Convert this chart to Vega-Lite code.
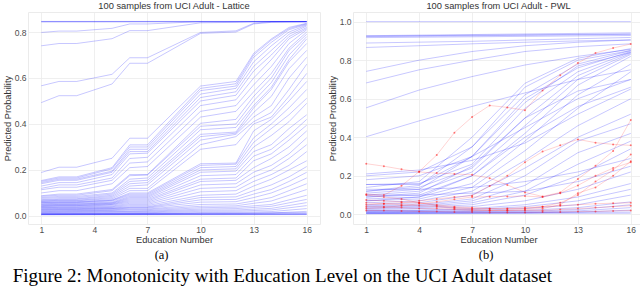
{
"$schema":"https://vega.github.io/schema/vega-lite/v6.json",
"padding":{"left":2,"top":1,"right":0,"bottom":0},
"background":"white",
"config":{
"view":{"stroke":"#ebebeb","strokeWidth":1},
"axis":{"domain":false,"ticks":false,"grid":true,"gridColor":"#ebebeb","gridWidth":0.8,"labelColor":"#4d4d4d","labelFontSize":8.5,"labelFont":"Liberation Sans","titleFont":"Liberation Sans","titleFontSize":9.3,"titleFontWeight":"normal","titleColor":"#333333","labelPadding":2,"titlePadding":2},
"axisX":{"labelPadding":1.5,"titlePadding":1,"labelFlush":false},
"title":{"font":"Liberation Sans","fontSize":9.3,"fontWeight":"normal","color":"#333333","offset":1}
},
"datasets":{
"lat":[
{"s":1,"x":1,"y":0.845},{"s":1,"x":16,"y":0.845},
{"s":2,"x":1,"y":0.846},{"s":2,"x":16,"y":0.846},
{"s":3,"x":1,"y":0.844},{"s":3,"x":16,"y":0.845},
{"s":4,"x":1,"y":0.798},{"s":4,"x":2,"y":0.804},{"s":4,"x":3,"y":0.804},{"s":4,"x":5,"y":0.816},{"s":4,"x":6,"y":0.835},{"s":4,"x":7,"y":0.835},{"s":4,"x":10,"y":0.845},{"s":4,"x":16,"y":0.845},
{"s":5,"x":1,"y":0.74},{"s":5,"x":2,"y":0.75},{"s":5,"x":3,"y":0.75},{"s":5,"x":5,"y":0.771},{"s":5,"x":6,"y":0.806},{"s":5,"x":7,"y":0.806},{"s":5,"x":10,"y":0.84},{"s":5,"x":12,"y":0.842},{"s":5,"x":13,"y":0.845},{"s":5,"x":16,"y":0.845},
{"s":6,"x":1,"y":0.566},{"s":6,"x":2,"y":0.585},{"s":6,"x":3,"y":0.585},{"s":6,"x":5,"y":0.616},{"s":6,"x":6,"y":0.688},{"s":6,"x":7,"y":0.688},{"s":6,"x":10,"y":0.798},{"s":6,"x":12,"y":0.805},{"s":6,"x":13,"y":0.838},{"s":6,"x":14,"y":0.845},{"s":6,"x":16,"y":0.845},
{"s":7,"x":1,"y":0.493},{"s":7,"x":2,"y":0.523},{"s":7,"x":3,"y":0.523},{"s":7,"x":5,"y":0.574},{"s":7,"x":6,"y":0.664},{"s":7,"x":7,"y":0.664},{"s":7,"x":10,"y":0.794},{"s":7,"x":12,"y":0.8},{"s":7,"x":13,"y":0.835},{"s":7,"x":14,"y":0.842},{"s":7,"x":16,"y":0.845},
{"s":10,"x":1,"y":0.189},{"s":10,"x":2,"y":0.212},{"s":10,"x":3,"y":0.212},{"s":10,"x":5,"y":0.251},{"s":10,"x":6,"y":0.338},{"s":10,"x":7,"y":0.338},{"s":10,"x":10,"y":0.565},{"s":10,"x":12,"y":0.585},{"s":10,"x":13,"y":0.707},{"s":10,"x":14,"y":0.77},{"s":10,"x":15,"y":0.82},{"s":10,"x":16,"y":0.838},
{"s":11,"x":1,"y":0.154},{"s":11,"x":2,"y":0.17},{"s":11,"x":3,"y":0.17},{"s":11,"x":5,"y":0.21},{"s":11,"x":6,"y":0.309},{"s":11,"x":7,"y":0.309},{"s":11,"x":10,"y":0.555},{"s":11,"x":12,"y":0.575},{"s":11,"x":13,"y":0.7},{"s":11,"x":14,"y":0.765},{"s":11,"x":15,"y":0.815},{"s":11,"x":16,"y":0.836},
{"s":12,"x":1,"y":0.15},{"s":12,"x":2,"y":0.165},{"s":12,"x":3,"y":0.165},{"s":12,"x":5,"y":0.205},{"s":12,"x":6,"y":0.3},{"s":12,"x":7,"y":0.3},{"s":12,"x":10,"y":0.545},{"s":12,"x":12,"y":0.565},{"s":12,"x":13,"y":0.69},{"s":12,"x":14,"y":0.755},{"s":12,"x":15,"y":0.81},{"s":12,"x":16,"y":0.833},
{"s":13,"x":1,"y":0.145},{"s":13,"x":2,"y":0.16},{"s":13,"x":3,"y":0.16},{"s":13,"x":5,"y":0.195},{"s":13,"x":6,"y":0.29},{"s":13,"x":7,"y":0.29},{"s":13,"x":10,"y":0.53},{"s":13,"x":12,"y":0.555},{"s":13,"x":13,"y":0.67},{"s":13,"x":14,"y":0.74},{"s":13,"x":15,"y":0.8},{"s":13,"x":16,"y":0.83},
{"s":14,"x":1,"y":0.14},{"s":14,"x":2,"y":0.155},{"s":14,"x":3,"y":0.155},{"s":14,"x":5,"y":0.19},{"s":14,"x":6,"y":0.28},{"s":14,"x":7,"y":0.28},{"s":14,"x":10,"y":0.515},{"s":14,"x":12,"y":0.54},{"s":14,"x":13,"y":0.65},{"s":14,"x":14,"y":0.72},{"s":14,"x":15,"y":0.79},{"s":14,"x":16,"y":0.826},
{"s":15,"x":1,"y":0.13},{"s":15,"x":2,"y":0.145},{"s":15,"x":3,"y":0.145},{"s":15,"x":5,"y":0.18},{"s":15,"x":6,"y":0.27},{"s":15,"x":7,"y":0.273},{"s":15,"x":10,"y":0.5},{"s":15,"x":12,"y":0.525},{"s":15,"x":13,"y":0.63},{"s":15,"x":14,"y":0.7},{"s":15,"x":15,"y":0.78},{"s":15,"x":16,"y":0.82},
{"s":16,"x":1,"y":0.12},{"s":16,"x":2,"y":0.135},{"s":16,"x":3,"y":0.135},{"s":16,"x":5,"y":0.165},{"s":16,"x":6,"y":0.25},{"s":16,"x":7,"y":0.255},{"s":16,"x":10,"y":0.48},{"s":16,"x":12,"y":0.505},{"s":16,"x":13,"y":0.6},{"s":16,"x":14,"y":0.68},{"s":16,"x":15,"y":0.77},{"s":16,"x":16,"y":0.815},
{"s":17,"x":1,"y":0.114},{"s":17,"x":2,"y":0.125},{"s":17,"x":3,"y":0.125},{"s":17,"x":5,"y":0.155},{"s":17,"x":6,"y":0.23},{"s":17,"x":7,"y":0.235},{"s":17,"x":10,"y":0.455},{"s":17,"x":12,"y":0.48},{"s":17,"x":13,"y":0.57},{"s":17,"x":14,"y":0.65},{"s":17,"x":15,"y":0.75},{"s":17,"x":16,"y":0.81},
{"s":18,"x":1,"y":0.1},{"s":18,"x":2,"y":0.11},{"s":18,"x":3,"y":0.11},{"s":18,"x":5,"y":0.14},{"s":18,"x":6,"y":0.21},{"s":18,"x":7,"y":0.215},{"s":18,"x":10,"y":0.43},{"s":18,"x":12,"y":0.455},{"s":18,"x":13,"y":0.54},{"s":18,"x":14,"y":0.62},{"s":18,"x":15,"y":0.73},{"s":18,"x":16,"y":0.8},
{"s":19,"x":1,"y":0.088},{"s":19,"x":2,"y":0.095},{"s":19,"x":3,"y":0.095},{"s":19,"x":5,"y":0.115},{"s":19,"x":6,"y":0.18},{"s":19,"x":7,"y":0.18},{"s":19,"x":10,"y":0.403},{"s":19,"x":12,"y":0.42},{"s":19,"x":13,"y":0.52},{"s":19,"x":14,"y":0.6},{"s":19,"x":15,"y":0.72},{"s":19,"x":16,"y":0.79},
{"s":20,"x":1,"y":0.085},{"s":20,"x":2,"y":0.09},{"s":20,"x":3,"y":0.09},{"s":20,"x":5,"y":0.11},{"s":20,"x":6,"y":0.175},{"s":20,"x":7,"y":0.178},{"s":20,"x":10,"y":0.39},{"s":20,"x":12,"y":0.4},{"s":20,"x":13,"y":0.5},{"s":20,"x":14,"y":0.58},{"s":20,"x":15,"y":0.7},{"s":20,"x":16,"y":0.78},
{"s":21,"x":1,"y":0.08},{"s":21,"x":2,"y":0.085},{"s":21,"x":3,"y":0.085},{"s":21,"x":5,"y":0.1},{"s":21,"x":6,"y":0.16},{"s":21,"x":7,"y":0.165},{"s":21,"x":10,"y":0.375},{"s":21,"x":12,"y":0.385},{"s":21,"x":13,"y":0.48},{"s":21,"x":14,"y":0.56},{"s":21,"x":15,"y":0.68},{"s":21,"x":16,"y":0.77},
{"s":22,"x":1,"y":0.076},{"s":22,"x":2,"y":0.08},{"s":22,"x":3,"y":0.08},{"s":22,"x":5,"y":0.095},{"s":22,"x":6,"y":0.15},{"s":22,"x":7,"y":0.155},{"s":22,"x":10,"y":0.355},{"s":22,"x":12,"y":0.365},{"s":22,"x":13,"y":0.47},{"s":22,"x":14,"y":0.55},{"s":22,"x":15,"y":0.67},{"s":22,"x":16,"y":0.75},
{"s":23,"x":1,"y":0.071},{"s":23,"x":2,"y":0.075},{"s":23,"x":3,"y":0.075},{"s":23,"x":5,"y":0.09},{"s":23,"x":6,"y":0.14},{"s":23,"x":7,"y":0.145},{"s":23,"x":10,"y":0.345},{"s":23,"x":12,"y":0.36},{"s":23,"x":13,"y":0.45},{"s":23,"x":14,"y":0.52},{"s":23,"x":15,"y":0.64},{"s":23,"x":16,"y":0.72},
{"s":24,"x":1,"y":0.068},{"s":24,"x":2,"y":0.072},{"s":24,"x":3,"y":0.072},{"s":24,"x":5,"y":0.085},{"s":24,"x":6,"y":0.13},{"s":24,"x":7,"y":0.135},{"s":24,"x":10,"y":0.33},{"s":24,"x":12,"y":0.355},{"s":24,"x":13,"y":0.43},{"s":24,"x":14,"y":0.48},{"s":24,"x":15,"y":0.6},{"s":24,"x":16,"y":0.69},
{"s":25,"x":1,"y":0.065},{"s":25,"x":2,"y":0.068},{"s":25,"x":3,"y":0.068},{"s":25,"x":5,"y":0.08},{"s":25,"x":6,"y":0.12},{"s":25,"x":7,"y":0.12},{"s":25,"x":10,"y":0.31},{"s":25,"x":12,"y":0.345},{"s":25,"x":13,"y":0.41},{"s":25,"x":14,"y":0.45},{"s":25,"x":15,"y":0.55},{"s":25,"x":16,"y":0.66},
{"s":26,"x":1,"y":0.063},{"s":26,"x":2,"y":0.066},{"s":26,"x":3,"y":0.066},{"s":26,"x":5,"y":0.075},{"s":26,"x":6,"y":0.11},{"s":26,"x":7,"y":0.11},{"s":26,"x":10,"y":0.29},{"s":26,"x":12,"y":0.31},{"s":26,"x":13,"y":0.4},{"s":26,"x":14,"y":0.43},{"s":26,"x":15,"y":0.52},{"s":26,"x":16,"y":0.62},
{"s":27,"x":1,"y":0.06},{"s":27,"x":2,"y":0.062},{"s":27,"x":3,"y":0.062},{"s":27,"x":5,"y":0.07},{"s":27,"x":6,"y":0.1},{"s":27,"x":7,"y":0.1},{"s":27,"x":10,"y":0.227},{"s":27,"x":12,"y":0.23},{"s":27,"x":13,"y":0.37},{"s":27,"x":14,"y":0.42},{"s":27,"x":15,"y":0.5},{"s":27,"x":16,"y":0.585},
{"s":28,"x":1,"y":0.058},{"s":28,"x":2,"y":0.06},{"s":28,"x":3,"y":0.06},{"s":28,"x":5,"y":0.068},{"s":28,"x":6,"y":0.095},{"s":28,"x":7,"y":0.095},{"s":28,"x":10,"y":0.22},{"s":28,"x":12,"y":0.225},{"s":28,"x":13,"y":0.34},{"s":28,"x":14,"y":0.4},{"s":28,"x":15,"y":0.47},{"s":28,"x":16,"y":0.55},
{"s":29,"x":1,"y":0.056},{"s":29,"x":2,"y":0.058},{"s":29,"x":3,"y":0.058},{"s":29,"x":5,"y":0.065},{"s":29,"x":6,"y":0.09},{"s":29,"x":7,"y":0.09},{"s":29,"x":10,"y":0.21},{"s":29,"x":12,"y":0.215},{"s":29,"x":13,"y":0.32},{"s":29,"x":14,"y":0.38},{"s":29,"x":15,"y":0.44},{"s":29,"x":16,"y":0.512},
{"s":30,"x":1,"y":0.053},{"s":30,"x":2,"y":0.055},{"s":30,"x":3,"y":0.055},{"s":30,"x":5,"y":0.06},{"s":30,"x":6,"y":0.085},{"s":30,"x":7,"y":0.085},{"s":30,"x":10,"y":0.2},{"s":30,"x":12,"y":0.205},{"s":30,"x":13,"y":0.3},{"s":30,"x":14,"y":0.35},{"s":30,"x":15,"y":0.41},{"s":30,"x":16,"y":0.49},
{"s":31,"x":1,"y":0.05},{"s":31,"x":2,"y":0.052},{"s":31,"x":3,"y":0.052},{"s":31,"x":5,"y":0.057},{"s":31,"x":6,"y":0.08},{"s":31,"x":7,"y":0.08},{"s":31,"x":10,"y":0.19},{"s":31,"x":12,"y":0.195},{"s":31,"x":13,"y":0.28},{"s":31,"x":14,"y":0.31},{"s":31,"x":15,"y":0.38},{"s":31,"x":16,"y":0.44},
{"s":32,"x":1,"y":0.048},{"s":32,"x":2,"y":0.05},{"s":32,"x":3,"y":0.05},{"s":32,"x":5,"y":0.055},{"s":32,"x":6,"y":0.075},{"s":32,"x":7,"y":0.075},{"s":32,"x":10,"y":0.175},{"s":32,"x":12,"y":0.18},{"s":32,"x":13,"y":0.26},{"s":32,"x":14,"y":0.29},{"s":32,"x":15,"y":0.35},{"s":32,"x":16,"y":0.42},
{"s":33,"x":1,"y":0.045},{"s":33,"x":2,"y":0.047},{"s":33,"x":3,"y":0.047},{"s":33,"x":5,"y":0.052},{"s":33,"x":6,"y":0.07},{"s":33,"x":7,"y":0.07},{"s":33,"x":10,"y":0.16},{"s":33,"x":12,"y":0.165},{"s":33,"x":13,"y":0.24},{"s":33,"x":14,"y":0.27},{"s":33,"x":15,"y":0.33},{"s":33,"x":16,"y":0.395},
{"s":34,"x":1,"y":0.043},{"s":34,"x":2,"y":0.045},{"s":34,"x":3,"y":0.045},{"s":34,"x":5,"y":0.05},{"s":34,"x":6,"y":0.065},{"s":34,"x":7,"y":0.065},{"s":34,"x":10,"y":0.15},{"s":34,"x":12,"y":0.155},{"s":34,"x":13,"y":0.21},{"s":34,"x":14,"y":0.25},{"s":34,"x":15,"y":0.3},{"s":34,"x":16,"y":0.37},
{"s":35,"x":1,"y":0.041},{"s":35,"x":2,"y":0.043},{"s":35,"x":3,"y":0.043},{"s":35,"x":5,"y":0.047},{"s":35,"x":6,"y":0.06},{"s":35,"x":7,"y":0.06},{"s":35,"x":10,"y":0.135},{"s":35,"x":12,"y":0.14},{"s":35,"x":13,"y":0.19},{"s":35,"x":14,"y":0.22},{"s":35,"x":15,"y":0.27},{"s":35,"x":16,"y":0.34},
{"s":36,"x":1,"y":0.038},{"s":36,"x":2,"y":0.04},{"s":36,"x":3,"y":0.04},{"s":36,"x":5,"y":0.043},{"s":36,"x":6,"y":0.055},{"s":36,"x":7,"y":0.055},{"s":36,"x":10,"y":0.12},{"s":36,"x":12,"y":0.125},{"s":36,"x":13,"y":0.17},{"s":36,"x":14,"y":0.2},{"s":36,"x":15,"y":0.25},{"s":36,"x":16,"y":0.31},
{"s":37,"x":1,"y":0.036},{"s":37,"x":2,"y":0.037},{"s":37,"x":3,"y":0.037},{"s":37,"x":5,"y":0.04},{"s":37,"x":6,"y":0.05},{"s":37,"x":7,"y":0.05},{"s":37,"x":10,"y":0.105},{"s":37,"x":12,"y":0.11},{"s":37,"x":13,"y":0.15},{"s":37,"x":14,"y":0.18},{"s":37,"x":15,"y":0.22},{"s":37,"x":16,"y":0.28},
{"s":38,"x":1,"y":0.034},{"s":38,"x":2,"y":0.035},{"s":38,"x":3,"y":0.035},{"s":38,"x":5,"y":0.037},{"s":38,"x":6,"y":0.045},{"s":38,"x":7,"y":0.045},{"s":38,"x":10,"y":0.09},{"s":38,"x":12,"y":0.095},{"s":38,"x":13,"y":0.13},{"s":38,"x":14,"y":0.16},{"s":38,"x":15,"y":0.2},{"s":38,"x":16,"y":0.24},
{"s":39,"x":1,"y":0.031},{"s":39,"x":2,"y":0.032},{"s":39,"x":3,"y":0.032},{"s":39,"x":5,"y":0.034},{"s":39,"x":6,"y":0.04},{"s":39,"x":7,"y":0.04},{"s":39,"x":10,"y":0.08},{"s":39,"x":12,"y":0.083},{"s":39,"x":13,"y":0.11},{"s":39,"x":14,"y":0.135},{"s":39,"x":15,"y":0.17},{"s":39,"x":16,"y":0.215},
{"s":40,"x":1,"y":0.029},{"s":40,"x":2,"y":0.03},{"s":40,"x":3,"y":0.03},{"s":40,"x":5,"y":0.032},{"s":40,"x":6,"y":0.037},{"s":40,"x":7,"y":0.037},{"s":40,"x":10,"y":0.07},{"s":40,"x":12,"y":0.072},{"s":40,"x":13,"y":0.095},{"s":40,"x":14,"y":0.115},{"s":40,"x":15,"y":0.15},{"s":40,"x":16,"y":0.19},
{"s":41,"x":1,"y":0.027},{"s":41,"x":2,"y":0.028},{"s":41,"x":3,"y":0.028},{"s":41,"x":5,"y":0.03},{"s":41,"x":6,"y":0.034},{"s":41,"x":7,"y":0.034},{"s":41,"x":10,"y":0.06},{"s":41,"x":12,"y":0.062},{"s":41,"x":13,"y":0.08},{"s":41,"x":14,"y":0.1},{"s":41,"x":15,"y":0.13},{"s":41,"x":16,"y":0.165},
{"s":42,"x":1,"y":0.024},{"s":42,"x":2,"y":0.025},{"s":42,"x":3,"y":0.025},{"s":42,"x":5,"y":0.027},{"s":42,"x":6,"y":0.03},{"s":42,"x":7,"y":0.03},{"s":42,"x":10,"y":0.05},{"s":42,"x":12,"y":0.052},{"s":42,"x":13,"y":0.065},{"s":42,"x":14,"y":0.08},{"s":42,"x":15,"y":0.11},{"s":42,"x":16,"y":0.14},
{"s":43,"x":1,"y":0.022},{"s":43,"x":2,"y":0.023},{"s":43,"x":3,"y":0.023},{"s":43,"x":5,"y":0.024},{"s":43,"x":6,"y":0.027},{"s":43,"x":7,"y":0.027},{"s":43,"x":10,"y":0.042},{"s":43,"x":12,"y":0.044},{"s":43,"x":13,"y":0.055},{"s":43,"x":14,"y":0.065},{"s":43,"x":15,"y":0.09},{"s":43,"x":16,"y":0.115},
{"s":44,"x":1,"y":0.019},{"s":44,"x":7,"y":0.023},{"s":44,"x":10,"y":0.036},{"s":44,"x":12,"y":0.038},{"s":44,"x":14,"y":0.05},{"s":44,"x":16,"y":0.09},
{"s":45,"x":1,"y":0.017},{"s":45,"x":7,"y":0.02},{"s":45,"x":10,"y":0.03},{"s":45,"x":12,"y":0.032},{"s":45,"x":14,"y":0.042},{"s":45,"x":16,"y":0.072},
{"s":46,"x":1,"y":0.015},{"s":46,"x":7,"y":0.017},{"s":46,"x":10,"y":0.025},{"s":46,"x":12,"y":0.026},{"s":46,"x":14,"y":0.033},{"s":46,"x":16,"y":0.058},
{"s":47,"x":1,"y":0.012},{"s":47,"x":7,"y":0.014},{"s":47,"x":10,"y":0.02},{"s":47,"x":12,"y":0.021},{"s":47,"x":14,"y":0.026},{"s":47,"x":16,"y":0.045},
{"s":48,"x":1,"y":0.01},{"s":48,"x":7,"y":0.011},{"s":48,"x":10,"y":0.015},{"s":48,"x":12,"y":0.016},{"s":48,"x":14,"y":0.019},{"s":48,"x":16,"y":0.032},
{"s":49,"x":1,"y":0.008},{"s":49,"x":7,"y":0.009},{"s":49,"x":10,"y":0.011},{"s":49,"x":12,"y":0.011},{"s":49,"x":14,"y":0.013},{"s":49,"x":16,"y":0.02},
{"s":50,"x":1,"y":0.007},{"s":50,"x":10,"y":0.008},{"s":50,"x":16,"y":0.01},
{"s":51,"x":1,"y":0.006},{"s":51,"x":16,"y":0.007},
{"s":52,"x":1,"y":0.005},{"s":52,"x":16,"y":0.006},
{"s":53,"x":1,"y":0.009},{"s":53,"x":7,"y":0.01},{"s":53,"x":12,"y":0.012},{"s":53,"x":16,"y":0.015},
{"s":54,"x":1,"y":0.007},{"s":54,"x":12,"y":0.008},{"s":54,"x":16,"y":0.009}
],
"pwl":[
{"s":1,"x":1,"y":1.0},{"s":1,"x":16,"y":1.0},
{"s":2,"x":1,"y":0.927},{"s":2,"x":16,"y":0.942},
{"s":3,"x":1,"y":0.922},{"s":3,"x":16,"y":0.934},
{"s":4,"x":1,"y":0.917},{"s":4,"x":16,"y":0.928},
{"s":5,"x":1,"y":0.925},{"s":5,"x":16,"y":0.936},
{"s":6,"x":1,"y":0.889},{"s":6,"x":7,"y":0.898},{"s":6,"x":16,"y":0.918},
{"s":7,"x":1,"y":0.866},{"s":7,"x":4,"y":0.875},{"s":7,"x":7,"y":0.885},{"s":7,"x":10,"y":0.893},{"s":7,"x":13,"y":0.9},{"s":7,"x":16,"y":0.905},
{"s":8,"x":1,"y":0.742},{"s":8,"x":4,"y":0.8},{"s":8,"x":7,"y":0.845},{"s":8,"x":10,"y":0.875},{"s":8,"x":13,"y":0.893},{"s":8,"x":16,"y":0.905},
{"s":9,"x":1,"y":0.682},{"s":9,"x":4,"y":0.75},{"s":9,"x":7,"y":0.8},{"s":9,"x":10,"y":0.845},{"s":9,"x":13,"y":0.87},{"s":9,"x":16,"y":0.885},
{"s":10,"x":1,"y":0.553},{"s":10,"x":4,"y":0.645},{"s":10,"x":7,"y":0.715},{"s":10,"x":10,"y":0.775},{"s":10,"x":13,"y":0.82},{"s":10,"x":16,"y":0.856},
{"s":11,"x":1,"y":0.403},{"s":11,"x":4,"y":0.485},{"s":11,"x":7,"y":0.56},{"s":11,"x":10,"y":0.63},{"s":11,"x":13,"y":0.7},{"s":11,"x":16,"y":0.75},
{"s":12,"x":1,"y":0.2},{"s":12,"x":4,"y":0.22},{"s":12,"x":7,"y":0.35},{"s":12,"x":10,"y":0.62},{"s":12,"x":13,"y":0.78},{"s":12,"x":16,"y":0.85},
{"s":13,"x":1,"y":0.155},{"s":13,"x":4,"y":0.155},{"s":13,"x":7,"y":0.3},{"s":13,"x":10,"y":0.6},{"s":13,"x":13,"y":0.76},{"s":13,"x":16,"y":0.845},
{"s":14,"x":1,"y":0.155},{"s":14,"x":4,"y":0.16},{"s":14,"x":7,"y":0.26},{"s":14,"x":10,"y":0.55},{"s":14,"x":13,"y":0.74},{"s":14,"x":16,"y":0.84},
{"s":15,"x":1,"y":0.12},{"s":15,"x":4,"y":0.14},{"s":15,"x":7,"y":0.24},{"s":15,"x":10,"y":0.5},{"s":15,"x":13,"y":0.72},{"s":15,"x":16,"y":0.835},
{"s":16,"x":1,"y":0.1},{"s":16,"x":4,"y":0.12},{"s":16,"x":7,"y":0.22},{"s":16,"x":10,"y":0.46},{"s":16,"x":13,"y":0.7},{"s":16,"x":16,"y":0.83},
{"s":17,"x":1,"y":0.09},{"s":17,"x":4,"y":0.1},{"s":17,"x":7,"y":0.2},{"s":17,"x":10,"y":0.42},{"s":17,"x":13,"y":0.67},{"s":17,"x":16,"y":0.82},
{"s":18,"x":1,"y":0.18},{"s":18,"x":4,"y":0.2},{"s":18,"x":7,"y":0.3},{"s":18,"x":10,"y":0.45},{"s":18,"x":13,"y":0.6},{"s":18,"x":16,"y":0.7},
{"s":19,"x":1,"y":0.21},{"s":19,"x":4,"y":0.23},{"s":19,"x":7,"y":0.28},{"s":19,"x":10,"y":0.37},{"s":19,"x":13,"y":0.52},{"s":19,"x":16,"y":0.65},
{"s":20,"x":1,"y":0.08},{"s":20,"x":4,"y":0.09},{"s":20,"x":7,"y":0.16},{"s":20,"x":10,"y":0.38},{"s":20,"x":13,"y":0.62},{"s":20,"x":16,"y":0.78},
{"s":21,"x":1,"y":0.07},{"s":21,"x":4,"y":0.08},{"s":21,"x":7,"y":0.14},{"s":21,"x":10,"y":0.33},{"s":21,"x":13,"y":0.55},{"s":21,"x":16,"y":0.74},
{"s":22,"x":1,"y":0.06},{"s":22,"x":4,"y":0.07},{"s":22,"x":7,"y":0.12},{"s":22,"x":10,"y":0.28},{"s":22,"x":13,"y":0.46},{"s":22,"x":16,"y":0.6},
{"s":23,"x":1,"y":0.05},{"s":23,"x":4,"y":0.06},{"s":23,"x":7,"y":0.1},{"s":23,"x":10,"y":0.24},{"s":23,"x":13,"y":0.4},{"s":23,"x":16,"y":0.52},
{"s":24,"x":1,"y":0.045},{"s":24,"x":4,"y":0.05},{"s":24,"x":7,"y":0.08},{"s":24,"x":10,"y":0.2},{"s":24,"x":13,"y":0.38},{"s":24,"x":16,"y":0.47},
{"s":25,"x":1,"y":0.04},{"s":25,"x":4,"y":0.045},{"s":25,"x":7,"y":0.07},{"s":25,"x":10,"y":0.15},{"s":25,"x":13,"y":0.32},{"s":25,"x":16,"y":0.42},
{"s":26,"x":1,"y":0.035},{"s":26,"x":4,"y":0.04},{"s":26,"x":7,"y":0.06},{"s":26,"x":10,"y":0.12},{"s":26,"x":13,"y":0.26},{"s":26,"x":16,"y":0.38},
{"s":27,"x":1,"y":0.03},{"s":27,"x":4,"y":0.035},{"s":27,"x":7,"y":0.05},{"s":27,"x":10,"y":0.1},{"s":27,"x":13,"y":0.2},{"s":27,"x":16,"y":0.34},
{"s":28,"x":1,"y":0.13},{"s":28,"x":4,"y":0.13},{"s":28,"x":7,"y":0.14},{"s":28,"x":10,"y":0.17},{"s":28,"x":13,"y":0.22},{"s":28,"x":16,"y":0.29},
{"s":29,"x":1,"y":0.1},{"s":29,"x":4,"y":0.1},{"s":29,"x":7,"y":0.11},{"s":29,"x":10,"y":0.12},{"s":29,"x":13,"y":0.17},{"s":29,"x":16,"y":0.25},
{"s":30,"x":1,"y":0.025},{"s":30,"x":4,"y":0.03},{"s":30,"x":7,"y":0.04},{"s":30,"x":10,"y":0.07},{"s":30,"x":13,"y":0.13},{"s":30,"x":16,"y":0.22},
{"s":31,"x":1,"y":0.02},{"s":31,"x":4,"y":0.022},{"s":31,"x":7,"y":0.03},{"s":31,"x":10,"y":0.05},{"s":31,"x":13,"y":0.09},{"s":31,"x":16,"y":0.16},
{"s":32,"x":1,"y":0.018},{"s":32,"x":4,"y":0.02},{"s":32,"x":7,"y":0.025},{"s":32,"x":10,"y":0.04},{"s":32,"x":13,"y":0.07},{"s":32,"x":16,"y":0.13},
{"s":33,"x":1,"y":0.015},{"s":33,"x":4,"y":0.016},{"s":33,"x":7,"y":0.02},{"s":33,"x":10,"y":0.03},{"s":33,"x":13,"y":0.05},{"s":33,"x":16,"y":0.1},
{"s":34,"x":1,"y":0.012},{"s":34,"x":7,"y":0.015},{"s":34,"x":10,"y":0.02},{"s":34,"x":13,"y":0.035},{"s":34,"x":16,"y":0.065},
{"s":35,"x":1,"y":0.01},{"s":35,"x":10,"y":0.015},{"s":35,"x":13,"y":0.025},{"s":35,"x":16,"y":0.05},
{"s":36,"x":1,"y":0.008},{"s":36,"x":10,"y":0.011},{"s":36,"x":13,"y":0.018},{"s":36,"x":16,"y":0.035},
{"s":37,"x":1,"y":0.006},{"s":37,"x":10,"y":0.008},{"s":37,"x":13,"y":0.012},{"s":37,"x":16,"y":0.022},
{"s":38,"x":1,"y":0.004},{"s":38,"x":16,"y":0.012},
{"s":39,"x":1,"y":0.003},{"s":39,"x":16,"y":0.006},
{"s":40,"x":1,"y":0.12},{"s":40,"x":4,"y":0.15},{"s":40,"x":7,"y":0.35},{"s":40,"x":10,"y":0.66},{"s":40,"x":13,"y":0.8},{"s":40,"x":16,"y":0.85},
{"s":41,"x":1,"y":0.14},{"s":41,"x":4,"y":0.17},{"s":41,"x":7,"y":0.4},{"s":41,"x":10,"y":0.68},{"s":41,"x":13,"y":0.81},{"s":41,"x":16,"y":0.86},
{"s":42,"x":1,"y":0.11},{"s":42,"x":4,"y":0.13},{"s":42,"x":7,"y":0.3},{"s":42,"x":10,"y":0.58},{"s":42,"x":13,"y":0.77},{"s":42,"x":16,"y":0.84},
{"s":43,"x":1,"y":0.09},{"s":43,"x":4,"y":0.11},{"s":43,"x":7,"y":0.25},{"s":43,"x":10,"y":0.5},{"s":43,"x":13,"y":0.64},{"s":43,"x":16,"y":0.7},
{"s":44,"x":1,"y":0.07},{"s":44,"x":4,"y":0.09},{"s":44,"x":7,"y":0.2},{"s":44,"x":10,"y":0.4},{"s":44,"x":13,"y":0.56},{"s":44,"x":16,"y":0.66}
],
"red":[
{"s":1,"x":1,"y":0.105},{"s":1,"x":2,"y":0.1},{"s":1,"x":3,"y":0.148},{"s":1,"x":4,"y":0.222},{"s":1,"x":5,"y":0.308},{"s":1,"x":6,"y":0.424},{"s":1,"x":7,"y":0.505},{"s":1,"x":8,"y":0.565},{"s":1,"x":9,"y":0.555},{"s":1,"x":10,"y":0.54},{"s":1,"x":11,"y":0.643},{"s":1,"x":12,"y":0.722},{"s":1,"x":13,"y":0.785},{"s":1,"x":14,"y":0.837},{"s":1,"x":15,"y":0.863},{"s":1,"x":16,"y":0.884},
{"s":2,"x":1,"y":0.263},{"s":2,"x":2,"y":0.25},{"s":2,"x":3,"y":0.234},{"s":2,"x":4,"y":0.22},{"s":2,"x":5,"y":0.214},{"s":2,"x":6,"y":0.21},{"s":2,"x":7,"y":0.205},{"s":2,"x":8,"y":0.188},{"s":2,"x":9,"y":0.153},{"s":2,"x":10,"y":0.114},{"s":2,"x":11,"y":0.093},{"s":2,"x":12,"y":0.114},{"s":2,"x":13,"y":0.183},{"s":2,"x":14,"y":0.252},{"s":2,"x":15,"y":0.329},{"s":2,"x":16,"y":0.49},
{"s":3,"x":1,"y":0.05},{"s":3,"x":2,"y":0.055},{"s":3,"x":3,"y":0.06},{"s":3,"x":4,"y":0.07},{"s":3,"x":5,"y":0.08},{"s":3,"x":6,"y":0.09},{"s":3,"x":7,"y":0.097},{"s":3,"x":8,"y":0.147},{"s":3,"x":9,"y":0.2},{"s":3,"x":10,"y":0.27},{"s":3,"x":11,"y":0.326},{"s":3,"x":12,"y":0.358},{"s":3,"x":13,"y":0.389},{"s":3,"x":14,"y":0.372},{"s":3,"x":15,"y":0.363},{"s":3,"x":16,"y":0.358},
{"s":4,"x":1,"y":0.1},{"s":4,"x":2,"y":0.09},{"s":4,"x":3,"y":0.08},{"s":4,"x":4,"y":0.06},{"s":4,"x":5,"y":0.045},{"s":4,"x":6,"y":0.035},{"s":4,"x":7,"y":0.03},{"s":4,"x":8,"y":0.028},{"s":4,"x":9,"y":0.028},{"s":4,"x":10,"y":0.03},{"s":4,"x":11,"y":0.04},{"s":4,"x":12,"y":0.06},{"s":4,"x":13,"y":0.1},{"s":4,"x":14,"y":0.17},{"s":4,"x":15,"y":0.23},{"s":4,"x":16,"y":0.31},
{"s":5,"x":1,"y":0.06},{"s":5,"x":2,"y":0.055},{"s":5,"x":3,"y":0.05},{"s":5,"x":4,"y":0.045},{"s":5,"x":5,"y":0.04},{"s":5,"x":6,"y":0.03},{"s":5,"x":7,"y":0.025},{"s":5,"x":8,"y":0.02},{"s":5,"x":9,"y":0.02},{"s":5,"x":10,"y":0.025},{"s":5,"x":11,"y":0.03},{"s":5,"x":12,"y":0.05},{"s":5,"x":13,"y":0.11},{"s":5,"x":14,"y":0.14},{"s":5,"x":15,"y":0.2},{"s":5,"x":16,"y":0.275},
{"s":6,"x":1,"y":0.075},{"s":6,"x":2,"y":0.07},{"s":6,"x":3,"y":0.065},{"s":6,"x":4,"y":0.06},{"s":6,"x":5,"y":0.05},{"s":6,"x":6,"y":0.04},{"s":6,"x":7,"y":0.035},{"s":6,"x":8,"y":0.03},{"s":6,"x":9,"y":0.03},{"s":6,"x":10,"y":0.035},{"s":6,"x":11,"y":0.04},{"s":6,"x":12,"y":0.045},{"s":6,"x":13,"y":0.05},{"s":6,"x":14,"y":0.055},{"s":6,"x":15,"y":0.058},{"s":6,"x":16,"y":0.06},
{"s":7,"x":1,"y":0.04},{"s":7,"x":2,"y":0.04},{"s":7,"x":3,"y":0.035},{"s":7,"x":4,"y":0.03},{"s":7,"x":5,"y":0.03},{"s":7,"x":6,"y":0.025},{"s":7,"x":7,"y":0.02},{"s":7,"x":8,"y":0.02},{"s":7,"x":9,"y":0.02},{"s":7,"x":10,"y":0.02},{"s":7,"x":11,"y":0.02},{"s":7,"x":12,"y":0.025},{"s":7,"x":13,"y":0.03},{"s":7,"x":14,"y":0.035},{"s":7,"x":15,"y":0.04},{"s":7,"x":16,"y":0.045},
{"s":8,"x":1,"y":0.02},{"s":8,"x":2,"y":0.02},{"s":8,"x":3,"y":0.018},{"s":8,"x":4,"y":0.015},{"s":8,"x":5,"y":0.015},{"s":8,"x":6,"y":0.012},{"s":8,"x":7,"y":0.012},{"s":8,"x":8,"y":0.01},{"s":8,"x":9,"y":0.01},{"s":8,"x":10,"y":0.01},{"s":8,"x":11,"y":0.012},{"s":8,"x":12,"y":0.012},{"s":8,"x":13,"y":0.015},{"s":8,"x":14,"y":0.015},{"s":8,"x":15,"y":0.018},{"s":8,"x":16,"y":0.02},
{"s":9,"x":1,"y":0.03},{"s":9,"x":2,"y":0.035},{"s":9,"x":3,"y":0.045},{"s":9,"x":4,"y":0.055},{"s":9,"x":5,"y":0.065},{"s":9,"x":6,"y":0.078},{"s":9,"x":7,"y":0.09},{"s":9,"x":8,"y":0.092},{"s":9,"x":9,"y":0.093},{"s":9,"x":10,"y":0.095},{"s":9,"x":11,"y":0.09},{"s":9,"x":12,"y":0.11},{"s":9,"x":13,"y":0.15},{"s":9,"x":14,"y":0.2},{"s":9,"x":15,"y":0.24},{"s":9,"x":16,"y":0.27}
]
},
"title":{"text":"Figure 2: Monotonicity with Education Level on the UCI Adult dataset","orient":"bottom","anchor":"start","font":"Liberation Serif","fontSize":19,"fontWeight":"normal","color":"#000000","offset":6,"dx":10},
"spacing":6,
"hconcat":[
{"title":{"text":"(a)","orient":"bottom","font":"Liberation Serif","fontSize":12.5,"fontWeight":"normal","color":"#000000","offset":4,"anchor":"middle"},
"vconcat":[{
"width":292,"height":212,
"title":{"text":"100 samples from UCI Adult - Lattice"},
"data":{"name":"lat"},
"mark":{"type":"line","color":"#0000ff","strokeWidth":1,"opacity":0.22},
"encoding":{
"x":{"field":"x","type":"quantitative","scale":{"domain":[0.25,16.75],"nice":false,"zero":false},"axis":{"values":[1,4,7,10,13,16],"title":"Education Number"}},
"y":{"field":"y","type":"quantitative","scale":{"domain":[-0.035,0.887],"nice":false,"zero":false},"axis":{"values":[0,0.2,0.4,0.6,0.8],"format":".1f","title":"Predicted Probability"}},
"detail":{"field":"s","type":"nominal"}
}
}]},
{"title":{"text":"(b)","orient":"bottom","font":"Liberation Serif","fontSize":12.5,"fontWeight":"normal","color":"#000000","offset":4,"anchor":"middle"},
"vconcat":[{
"width":291,"height":212,
"title":{"text":"100 samples from UCI Adult - PWL"},
"encoding":{
"x":{"field":"x","type":"quantitative","scale":{"domain":[0.25,16.75],"nice":false,"zero":false},"axis":{"values":[1,4,7,10,13,16],"title":"Education Number"}},
"y":{"field":"y","type":"quantitative","scale":{"domain":[-0.05,1.05],"nice":false,"zero":false},"axis":{"values":[0,0.2,0.4,0.6,0.8,1.0],"format":".1f","title":"Predicted Probability"}},
"detail":{"field":"s","type":"nominal"}
},
"layer":[
{"data":{"name":"pwl"},"mark":{"type":"line","color":"#0000ff","strokeWidth":1,"opacity":0.22}},
{"data":{"name":"red"},"mark":{"type":"line","color":"#ff0000","strokeWidth":0.8,"opacity":0.22}},
{"data":{"name":"red"},"mark":{"type":"point","filled":true,"color":"#ff0000","size":4,"opacity":0.5}}
]
}]}
]
}
